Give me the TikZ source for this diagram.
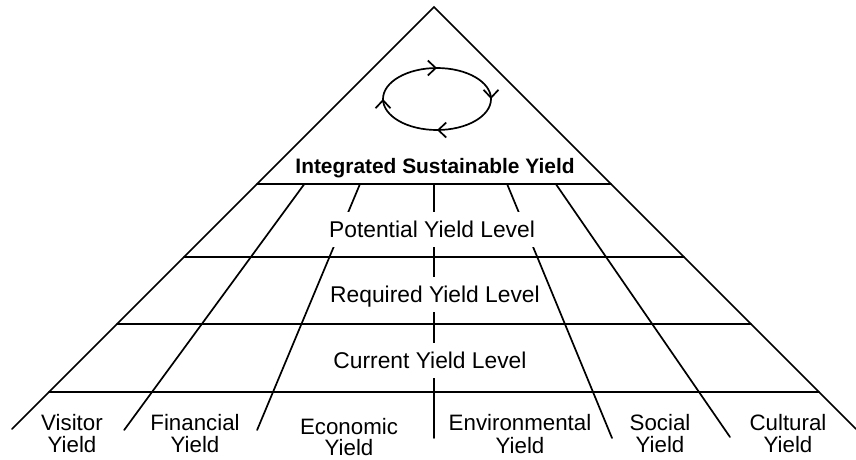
\documentclass[tikz,border=0pt]{standalone}
\usepackage{fontspec}
\setmainfont{Liberation Sans}
\usetikzlibrary{arrows.meta,decorations.markings}
\def\yieldray(#1:#2){\draw[gridline] ({434+(#1)/385*177}, 184) -- ({434+(#1)/385*(#2-7)}, #2);}

\begin{document}
\begin{tikzpicture}[x=1pt, y=-1pt,
	gridline/.style={line width=1.7pt, line cap=round},
	levellabel/.style={fill=white, anchor=base, inner xsep=3pt, inner ysep=8.5pt, text height=17pt, text depth=1pt, font=\fontsize{22.8}{26}\selectfont},
	sectorlabel/.style={anchor=base, inner sep=0pt, font=\fontsize{22.3}{26}\selectfont},
	toplabel/.style={anchor=base, inner sep=0pt, font=\fontsize{20.9}{24}\selectfont\bfseries},
	cyclearrow/.style={decoration={markings,
		mark=at position 0.0001 with {\arrow{Straight Barb[length=8pt, width=15pt]}},
		mark=at position 0.25 with {\arrow{Straight Barb[length=8pt, width=15pt]}},
		mark=at position 0.5 with {\arrow{Straight Barb[length=8pt, width=15pt]}},
		mark=at position 0.75 with {\arrow{Straight Barb[length=8pt, width=15pt]}}},
		postaction={decorate}}]
			%%%%% START %%%%%
			\useasboundingbox (0, 0) rectangle (856, 459);
			
			\coordinate (apex) at (434, 7);
			\draw[gridline] (12, 429) -- (apex) -- (856, 429);
			
			\foreach \y in {184, 257, 324, 392}
				\draw[gridline] ({434-(\y-7)}, \y) -- ({434+(\y-7)}, \y);
			
			\yieldray(-282:430)
			\yieldray(-161:430)
			\yieldray(0:438)
			\yieldray(159:438)
			\yieldray(265:437)
			
			\draw[gridline, cyclearrow] (437, 68) arc[start angle=-90, end angle=270, x radius=54, y radius=31];
			
			\node[toplabel] (integrated) at (435, 173) {Integrated Sustainable Yield};
			
			\node[levellabel] (potential) at (432, 237) {Potential Yield Level};
			\node[levellabel] (required) at (435, 302) {Required Yield Level};
			\node[levellabel] (current) at (430, 368) {Current Yield Level};
			
			\foreach \x/\b/\s/\name in {72/430/22/Visitor, 195/430/22/Financial, 349/434/21/Economic, 520/430/23/Environmental, 660/430/22/Social, 788/430/22/Cultural}
			{
				\node[sectorlabel] (\name) at (\x, \b) {\name};
				\node[sectorlabel] (\name-yield) at (\x, \b+\s) {Yield};
			}
			%%%%% END %%%%%
\end{tikzpicture}
\end{document}
